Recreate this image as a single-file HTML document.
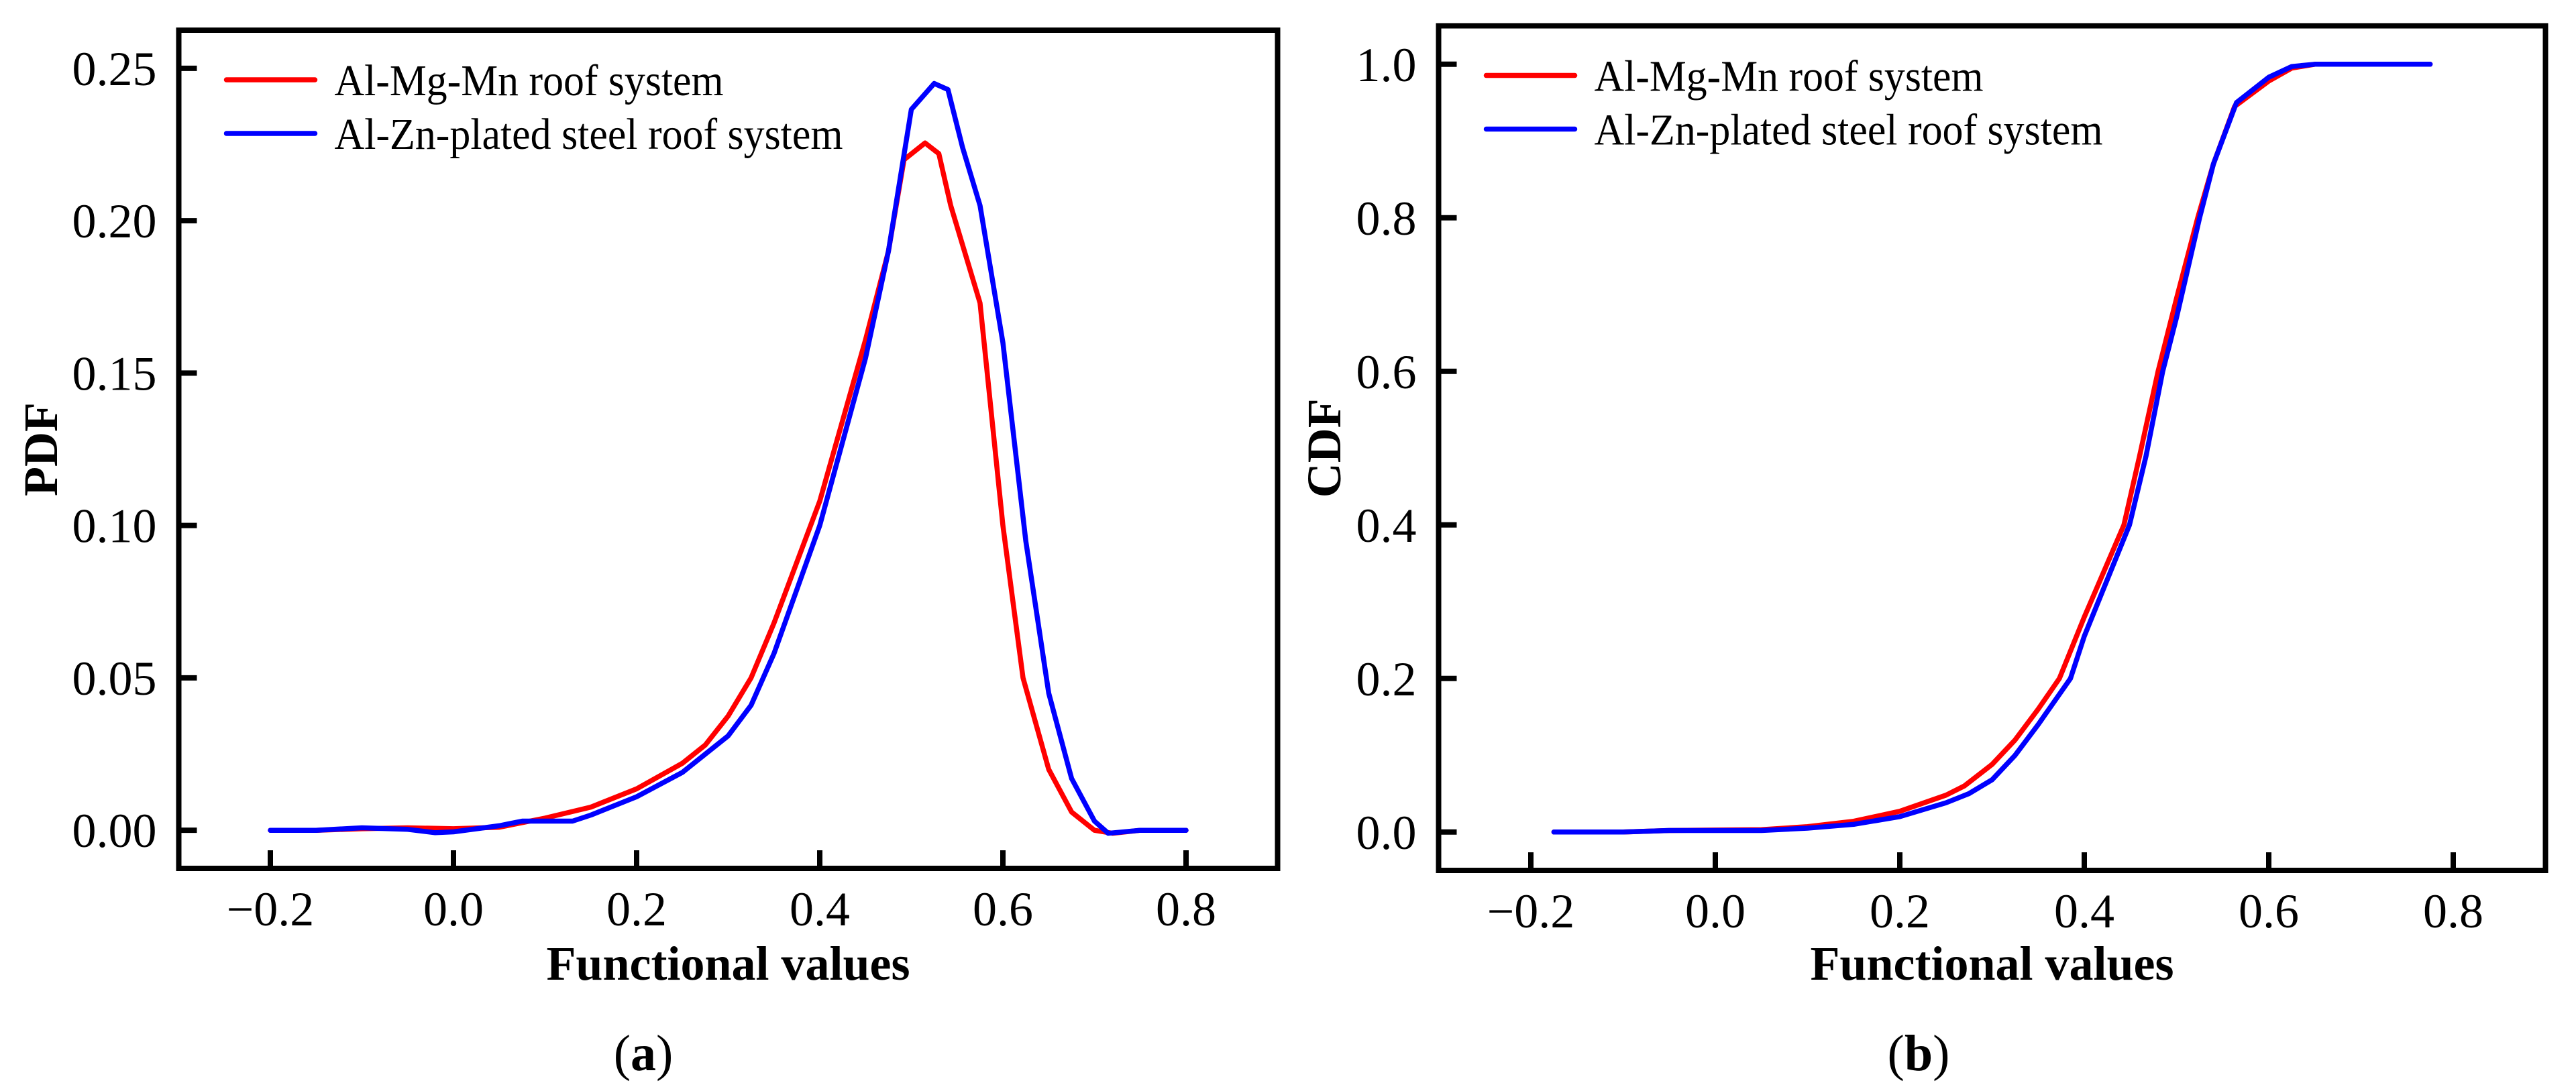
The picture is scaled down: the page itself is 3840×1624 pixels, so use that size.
<!DOCTYPE html>
<html><head><meta charset="utf-8"><style>
html,body{margin:0;padding:0;background:#fff;}
svg{display:block;font-family:"Liberation Serif",serif;}
</style></head><body>
<svg id="fig" width="3840" height="1624" viewBox="0 0 3840 1624" xmlns="http://www.w3.org/2000/svg">
<g id="pa"></g>
<g id="pb"></g>
</svg>
<script>
const pdfX = [-0.2,-0.15,-0.1,-0.05,0.0,0.05,0.1,0.15,0.2,0.25,0.275,0.3,0.325,0.35,0.4,0.45,0.475,0.492,0.515,0.53,0.543,0.575,0.6,0.622,0.65,0.675,0.7,0.72,0.75,0.8];
const pdfRed = [0,0,0.0005,0.0008,0.0005,0.001,0.004,0.0076,0.0136,0.022,0.028,0.0375,0.05,0.068,0.108,0.161,0.19,0.22,0.2255,0.222,0.205,0.173,0.1,0.05,0.02,0.006,0.0,-0.001,0,0];
const pdfBlueX = [-0.2,-0.15,-0.1,-0.05,-0.02,0.0,0.05,0.075,0.1,0.13,0.15,0.2,0.25,0.3,0.325,0.35,0.4,0.45,0.475,0.5,0.525,0.54,0.556,0.575,0.6,0.625,0.65,0.675,0.7,0.715,0.75,0.8];
const pdfBlue = [0,0,0.0008,0.0003,-0.0008,-0.0005,0.0015,0.003,0.003,0.003,0.005,0.011,0.019,0.031,0.041,0.058,0.1,0.155,0.19,0.2365,0.245,0.243,0.224,0.205,0.16,0.095,0.045,0.017,0.003,-0.001,0,0];
const cdfRedX = [-0.175,-0.1,-0.05,0.05,0.1,0.15,0.2,0.25,0.27,0.3,0.325,0.35,0.373,0.4,0.443,0.46,0.48,0.5,0.523,0.54,0.563,0.6,0.625,0.65,0.775];
const cdfRed = [0,0,0.002,0.003,0.007,0.014,0.027,0.048,0.06,0.088,0.12,0.16,0.2,0.28,0.4,0.49,0.6,0.695,0.8,0.87,0.945,0.978,0.995,1,1];
const cdfBlueX = [-0.175,-0.1,-0.05,0.05,0.1,0.15,0.2,0.25,0.275,0.3,0.325,0.35,0.385,0.4,0.449,0.467,0.485,0.5,0.525,0.54,0.565,0.6,0.625,0.65,0.775];
const cdfBlue = [0,0,0.002,0.002,0.005,0.01,0.02,0.038,0.05,0.068,0.1,0.14,0.2,0.255,0.4,0.49,0.6,0.67,0.8,0.87,0.95,0.983,0.997,1,1];
const xTicks = [-0.2,0.0,0.2,0.4,0.6,0.8];
const xTickLabels = ["\u22120.2","0.0","0.2","0.4","0.6","0.8"];
const pdfYTicks = [0,0.05,0.10,0.15,0.20,0.25];
const pdfYLabels = ["0.00","0.05","0.10","0.15","0.20","0.25"];
const cdfYTicks = [0,0.2,0.4,0.6,0.8,1.0];
const cdfYLabels = ["0.0","0.2","0.4","0.6","0.8","1.0"];
const legendLabels = ["Al-Mg-Mn roof system","Al-Zn-plated steel roof system"];

const NS="http://www.w3.org/2000/svg";
function mk(parent,tag,attrs,text){const e=document.createElementNS(NS,tag);for(const k in attrs)e.setAttribute(k,attrs[k]);if(text!==undefined)e.textContent=text;parent.appendChild(e);return e;}

function panel(g,cfg){
  const L=cfg.L,R=cfg.R,T=cfg.T,B=cfg.B;
  const sx=v=>L+(v-cfg.xmin)/(cfg.xmax-cfg.xmin)*(R-L);
  const sy=v=>B-(v-cfg.ymin)/(cfg.ymax-cfg.ymin)*(B-T);
  cfg.series.forEach((s,i)=>{
    const d=s.x.map((x,j)=>(j?'L':'M')+sx(x).toFixed(1)+' '+sy(s.y[j]).toFixed(1)).join(' ');
    const p=mk(g,'path',{d:d,fill:'none',stroke:s.color,'stroke-width':7.5,'stroke-linejoin':'round','stroke-linecap':'round'});
    
    
  });
  const f=mk(g,'rect',{x:L,y:T,width:R-L,height:B-T,fill:'none',stroke:'#000','stroke-width':8});
  
  
  xTicks.forEach((v,i)=>{
    const x=sx(v);
    const t=mk(g,'line',{x1:x,x2:x,y1:B,y2:B-27,stroke:'#000','stroke-width':8});
    
    
    const tl=mk(g,'text',{x:x,y:B+85,'font-size':72,'text-anchor':'middle'},xTickLabels[i]);
    
    
  });
  cfg.yTicks.forEach((v,i)=>{
    const y=sy(v);
    const t=mk(g,'line',{x1:L,x2:L+27,y1:y,y2:y,stroke:'#000','stroke-width':8});
    
    
    const tl=mk(g,'text',{x:L-33,y:y+25,'font-size':72,'text-anchor':'end'},cfg.yLabels[i]);
    
    
  });
  const xt=mk(g,'text',{x:(L+R)/2,y:1461,'font-size':72,'font-weight':'bold','text-anchor':'middle'},'Functional values');
  
  
  const yt=mk(g,'text',{x:0,y:0,'font-size':72,'font-weight':'bold','text-anchor':'middle',transform:'translate('+(cfg.ylabX)+','+((T+B)/2)+') rotate(-90)'},cfg.ylabel);
  
  
  const legW=[580,758];
  cfg.series.forEach((s,i)=>{
    const y=T+74+i*80;
    const ll=mk(g,'line',{x1:L+71,x2:L+203,y1:y,y2:y,stroke:s.color,'stroke-width':7.5,'stroke-linecap':'round'});
    
    
    const lt=mk(g,'text',{x:L+232,y:y+23,'font-size':66,textLength:legW[i],lengthAdjust:'spacingAndGlyphs'},legendLabels[i]);
    
    
  });
  const cap=mk(g,'text',{x:cfg.capX,y:1596,'font-size':76,'text-anchor':'middle'});
  
  
  mk(cap,'tspan',{},'(');mk(cap,'tspan',{'font-weight':'bold'},cfg.cap);mk(cap,'tspan',{},')');
}

panel(document.getElementById('pa'),{L:266.5,R:1904.5,T:45,B:1295,xmin:-0.3,xmax:0.9,ymin:-0.0125,ymax:0.2625,
  yTicks:pdfYTicks,yLabels:pdfYLabels,ylabel:'PDF',ylabX:85,capX:959,cap:'a',
  series:[{x:pdfX,y:pdfRed,color:'#ff0000',name:'pdf-line-al-mg-mn'},{x:pdfBlueX,y:pdfBlue,color:'#0000ff',name:'pdf-line-al-zn'}]});
panel(document.getElementById('pb'),{L:2144.5,R:3794.5,T:38.5,B:1298,xmin:-0.3,xmax:0.9,ymin:-0.05,ymax:1.05,
  yTicks:cdfYTicks,yLabels:cdfYLabels,ylabel:'CDF',ylabX:1998,capX:2860,cap:'b',
  series:[{x:cdfRedX,y:cdfRed,color:'#ff0000',name:'cdf-line-al-mg-mn'},{x:cdfBlueX,y:cdfBlue,color:'#0000ff',name:'cdf-line-al-zn'}]});
</script>
</body></html>
